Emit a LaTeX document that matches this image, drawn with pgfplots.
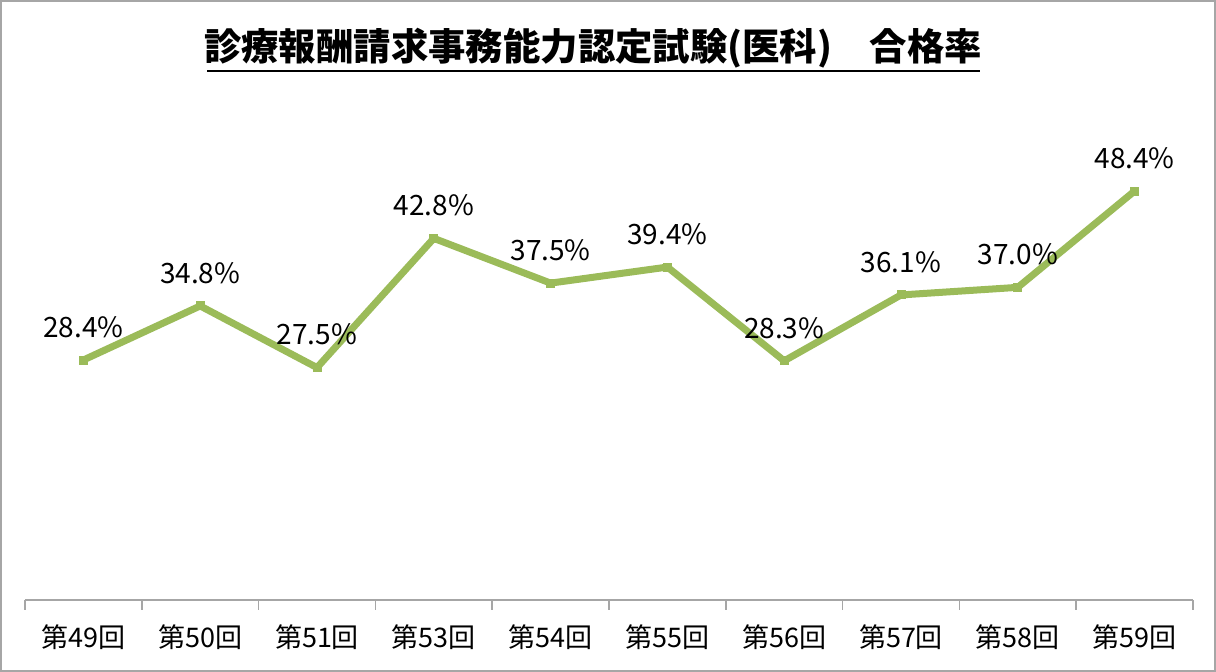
\documentclass[border=0pt]{standalone}
\usepackage{fontspec}
\setmainfont{Noto Sans CJK JP}
\usepackage{pgfplots}
\pgfplotsset{compat=1.18}
\definecolor{lg}{HTML}{9BBB59}
\begin{document}
\begin{tikzpicture}[x=1pt,y=1pt]
\useasboundingbox (0,0) rectangle (608,336);
\draw[gray!70, line width=1pt] (0.5,0.5) rectangle (607.5,335.5);
\begin{axis}[
  at={(12.5pt,36pt)}, anchor=south west,
  scale only axis, width=584pt, height=253.5pt,
  xmin=-0.5, xmax=9.5, ymin=0, ymax=60,
  axis x line=bottom, axis y line=none,
  axis line style={-, gray!70, line width=0.8pt},
  xtick={0,...,9},
  xticklabels={第49回,第50回,第51回,第53回,第54回,第55回,第56回,第57回,第58回,第59回},
  minor xtick={-0.5,0.5,...,9.5},
  major tick length=0pt, minor tick length=5pt,
  tick align=outside,
  every minor tick/.style={gray!70, line width=0.8pt},
  xticklabel style={font=\fontsize{13.5}{15}\selectfont, yshift=-9pt},
  clip=false,
  nodes near coords,
  point meta=explicit symbolic,
  every node near coord/.style={font=\fontsize{14}{16}\selectfont, anchor=center, yshift=16.5pt, text=black},
]
\addplot[lg, line width=3.5pt, mark=square*, mark size=2pt, mark options={fill=lg, draw=lg, line width=0.5pt}]
coordinates {
(0,28.4) [28.4\%]
(1,34.8) [34.8\%]
(2,27.5) [27.5\%]
(3,42.8) [42.8\%]
(4,37.5) [37.5\%]
(5,39.4) [39.4\%]
(6,28.3) [28.3\%]
(7,36.1) [36.1\%]
(8,37.0) [37.0\%]
(9,48.4) [48.4\%]
};
\end{axis}
\node[font=\bfseries\fontsize{18.7}{21}\selectfont, anchor=center] at (296.5,312) {診療報酬請求事務能力認定試験(医科)　合格率};
\draw[black, line width=1.3pt] (103.5,300.5) -- (490,300.5);
\end{tikzpicture}
\end{document}
